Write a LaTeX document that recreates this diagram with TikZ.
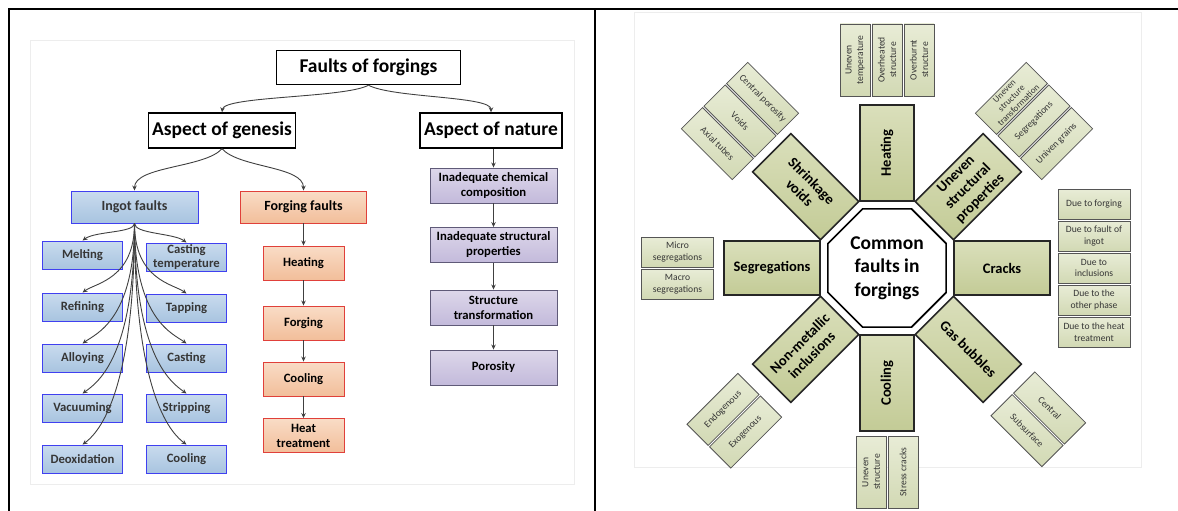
\documentclass[tikz,border=0pt]{standalone}
\usepackage{fontspec}
\setmainfont{Carlito}
\usetikzlibrary{shapes.geometric,arrows.meta}
\definecolor{ingotT}{HTML}{C9DBEE}
\definecolor{ingotB}{HTML}{A8C4E0}
\definecolor{ingotD}{HTML}{4040F0}
\definecolor{peachT}{HTML}{F9DCC6}
\definecolor{peachB}{HTML}{F2BE9A}
\definecolor{peachD}{HTML}{E0403A}
\definecolor{purpT}{HTML}{DDD7EA}
\definecolor{purpB}{HTML}{C3BADB}
\definecolor{purpD}{HTML}{5F5A78}
\definecolor{greenT}{HTML}{DADFBB}
\definecolor{greenB}{HTML}{C3CB96}
\definecolor{greenD}{HTML}{262626}
\definecolor{subT}{HTML}{E8ECD6}
\definecolor{subB}{HTML}{D2D9B4}
\definecolor{subD}{HTML}{555555}
\definecolor{txtg}{HTML}{363636}
\definecolor{arrc}{HTML}{404040}
\newcommand\ffBig{\bfseries\fontsize{19.5}{22}\selectfont}
\newcommand\ffHead{\bfseries\fontsize{14}{16}\selectfont}
\newcommand\ffSmall{\bfseries\fontsize{12.7}{15}\selectfont}
\newcommand\ffOct{\bfseries\fontsize{19.5}{23.5}\selectfont}
\newcommand\ffGreen{\bfseries\fontsize{14.5}{17}\selectfont}
\newcommand\ffSub{\fontsize{9.6}{11.5}\selectfont}
\tikzset{
  blkbox/.style={draw=black, line width=1.4pt, fill=white, inner sep=0pt, font=\ffBig},
  ingotbox/.style={draw=ingotD, line width=0.9pt, top color=ingotT, bottom color=ingotB, inner sep=0pt, align=center, text=txtg, font=\ffSmall, minimum width=80, minimum height=28},
  peachbox/.style={draw=peachD, line width=0.9pt, top color=peachT, bottom color=peachB, inner sep=0pt, align=center, text=black, font=\ffSmall, minimum width=81, minimum height=34},
  purpbox/.style={draw=purpD, line width=0.9pt, top color=purpT, bottom color=purpB, inner sep=0pt, align=center, text=black, font=\ffSmall, minimum width=127, minimum height=35},
  arr/.style={draw=arrc, line width=0.9pt, -{Stealth[length=5pt,width=4.5pt]}},
  gbox/.style={draw=greenD, line width=1.6pt, top color=greenT, bottom color=greenB, inner sep=0pt, align=center, minimum width=96, minimum height=54, font=\ffGreen},
  sbox/.style={draw=subD, line width=0.8pt, top color=subT, bottom color=subB, inner sep=0pt, align=center, minimum width=72, minimum height=30, font=\ffSub, text=txtg},
  frameline/.style={line width=2.5pt, draw=black},
  panel/.style={draw=black!7, line width=0.8pt}
}
\begin{document}
\begin{tikzpicture}[x=1pt,y=-1pt]
\useasboundingbox (0,0) rectangle (1178,511);
% frame and faint panels
\draw[panel] (30,40) rectangle (574,484);
\draw[panel] (634,12) rectangle (1141,467);
\draw[frameline] (9,511) -- (9,9) -- (1178,9);
\draw[frameline] (595,9) -- (595,511);

% ---------- left panel ----------
\node[blkbox, minimum width=184, minimum height=34] (faults) at (368.5,67.5) {Faults of forgings};
\node[blkbox, minimum width=147, minimum height=35] (genesis) at (222,130.5) {Aspect of genesis};
\node[blkbox, minimum width=142, minimum height=35] (nature) at (491,130.5) {Aspect of nature};

\node[ingotbox, minimum width=127, minimum height=32, font=\ffHead] (ingot) at (134.5,207) {Ingot faults};
\node[peachbox, minimum width=126, minimum height=32, font=\ffHead] (forgf) at (303.5,207) {Forging faults};

\node[ingotbox] (melt)  at (82.5,255) {Melting};
\node[ingotbox] (refin) at (82.5,307) {Refining};
\node[ingotbox] (alloy) at (82.5,358) {Alloying};
\node[ingotbox] (vacu)  at (82.5,408) {Vacuuming};
\node[ingotbox] (deox)  at (82.5,459) {Deoxidation};
\node[ingotbox, align=center, font=\bfseries\fontsize{12.7}{14}\selectfont] (ctemp) at (186.5,257) {Casting\\temperature};
\node[ingotbox] (tapp)  at (186.5,308) {Tapping};
\node[ingotbox] (cast)  at (186.5,358) {Casting};
\node[ingotbox] (strip) at (186.5,408) {Stripping};
\node[ingotbox] (icool) at (186.5,459) {Cooling};

\node[peachbox] (fheat) at (303.5,263) {Heating};
\node[peachbox] (fforg) at (303.5,323) {Forging};
\node[peachbox] (fcool) at (303.5,379) {Cooling};
\node[peachbox] (ftreat) at (303.5,435.5) {Heat\\treatment};

\node[purpbox] (chem)  at (493.5,185.5) {Inadequate chemical\\composition};
\node[purpbox] (struc) at (493.5,245) {Inadequate structural\\properties};
\node[purpbox] (trans) at (493.5,307.5) {Structure\\transformation};
\node[purpbox] (poro)  at (493.5,367.5) {Porosity};

% connectors
\draw[arr] (faults.south) .. controls (345,98) and (224,96) .. (genesis.north);
\draw[arr] (faults.south) .. controls (392,98) and (491,96) .. (nature.north);
\draw[arr] (genesis.south) .. controls (205,168) and (134.5,166) .. (ingot.north);
\draw[arr] (genesis.south) .. controls (239,168) and (303.5,166) .. (forgf.north);

\draw[arr] (ingot.south) .. controls (134.5,233) and (95.5,231) .. (melt.north);
\draw[arr] (ingot.south) .. controls (134.5,234) and (173.5,233) .. (ctemp.north);
\draw[arr] (ingot.south) .. controls (134.5,279) and (95.5,283) .. (refin.north);
\draw[arr] (ingot.south) .. controls (134.5,280) and (173.5,284) .. (tapp.north);
\draw[arr] (ingot.south) .. controls (134.5,320) and (95.5,334) .. (alloy.north);
\draw[arr] (ingot.south) .. controls (134.5,320) and (173.5,334) .. (cast.north);
\draw[arr] (ingot.south) .. controls (134.5,360) and (95.5,384) .. (vacu.north);
\draw[arr] (ingot.south) .. controls (134.5,360) and (173.5,384) .. (strip.north);
\draw[arr] (ingot.south) .. controls (134.5,400) and (95.5,435) .. (deox.north);
\draw[arr] (ingot.south) .. controls (134.5,400) and (173.5,435) .. (icool.north);

\draw[arr] (forgf) -- (fheat);
\draw[arr] (fheat) -- (fforg);
\draw[arr] (fforg) -- (fcool);
\draw[arr] (fcool) -- (ftreat);

\draw[arr] (chem.north |- nature.south) -- (chem.north);
\draw[arr] (chem) -- (struc);
\draw[arr] (struc) -- (trans);
\draw[arr] (trans) -- (poro);

% ---------- right panel ----------
\node[draw=black, line width=1.6pt, fill=white, regular polygon, regular polygon sides=8, minimum size=128, inner sep=0pt, align=center, font=\ffOct] (oct) at (887,268) {Common\\faults in\\forgings};

\node[gbox, rotate=90]  (heat)   at (887,153) {Heating};
\node[gbox, rotate=90]  (cool)   at (887,383) {Cooling};
\node[gbox]             (segr)   at (772,268) {Segregations};
\node[gbox]             (crack)  at (1002,268) {Cracks};
\node[gbox, rotate=-45] (shrink) at (805.7,186.7) {Shrinkage\\voids};
\node[gbox, rotate=45]  (uneven) at (968.3,186.7) {Uneven\\structural\\properties};
\node[gbox, rotate=45]  (nonmet) at (805.7,349.3) {Non-metallic\\inclusions};
\node[gbox, rotate=-45] (gas)    at (968.3,349.3) {Gas bubbles};

\node[sbox, rotate=90] (h1) at (855,60) {Uneven\\temperature};
\node[sbox, rotate=90] (h2) at (887,60) {Overheated\\structure};
\node[sbox, rotate=90] (h3) at (919,60) {Overburnt\\structure};

\node[sbox, rotate=90] (c1) at (871,472) {Uneven\\structure};
\node[sbox, rotate=90] (c2) at (903,472) {Stress cracks};

\node[sbox] (s1) at (677.5,252) {Micro\\segregations};
\node[sbox] (s2) at (677.5,284) {Macro\\segregations};

\node[sbox] (k1) at (1094,204) {Due to forging};
\node[sbox] (k2) at (1094,236) {Due to fault of\\ingot};
\node[sbox] (k3) at (1094,268) {Due to\\inclusions};
\node[sbox] (k4) at (1094,300) {Due to the\\other phase};
\node[sbox] (k5) at (1094,332) {Due to the heat\\treatment};

\node[sbox, rotate=-45] (v1) at (762.6,98.4) {Central porosity};
\node[sbox, rotate=-45] (v2) at (740,121) {Voids};
\node[sbox, rotate=-45] (v3) at (717.4,143.6) {Axial tubes};

\node[sbox, rotate=45, font=\fontsize{9}{10}\selectfont] (u1) at (1011.4,98.4) {Uneven\\structure\\transformation};
\node[sbox, rotate=45] (u2) at (1034,121) {Segregations};
\node[sbox, rotate=45] (u3) at (1056.6,143.6) {Univen grains};

\node[sbox, rotate=45] (n1) at (723,409.4) {Endogenous};
\node[sbox, rotate=45] (n2) at (745.6,432) {Exogenous};

\node[sbox, rotate=-45] (g1) at (1049.6,408) {Central};
\node[sbox, rotate=-45] (g2) at (1027,430.6) {Subsurface};
\end{tikzpicture}
\end{document}
